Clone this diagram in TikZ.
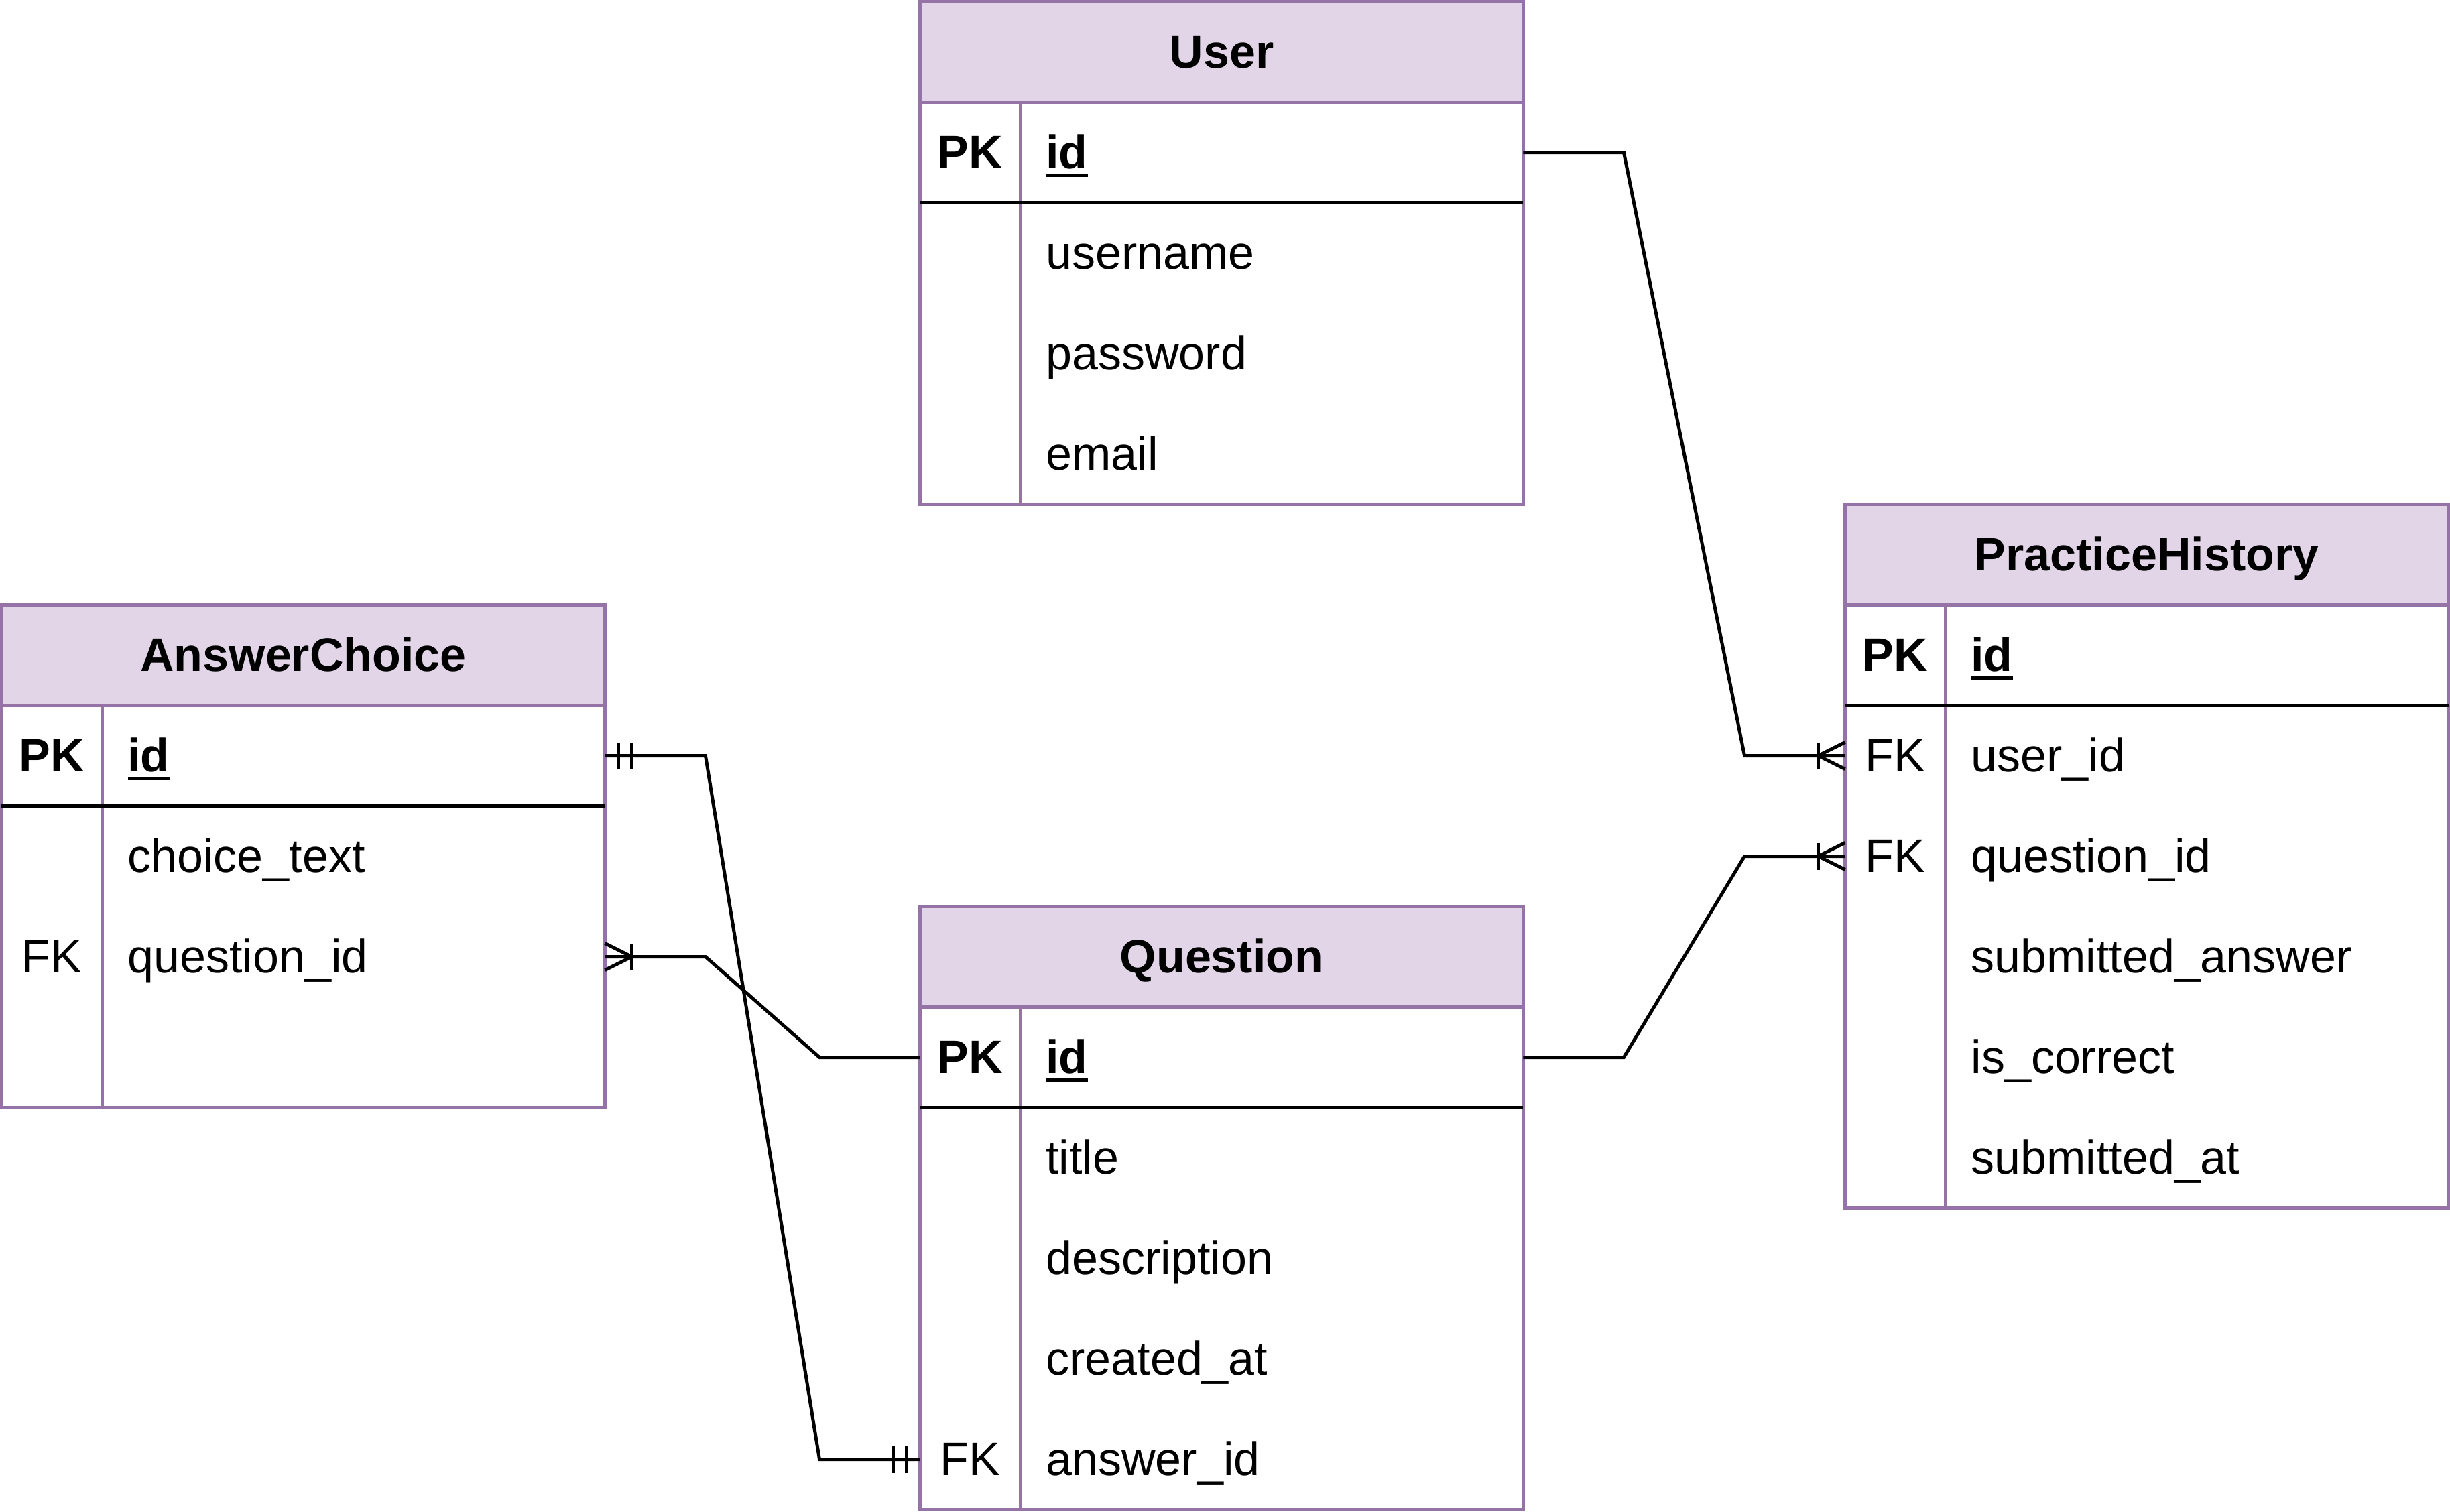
\documentclass[tikz,border=0pt]{standalone}
\usepackage{fontspec}
\setmainfont{Liberation Sans}
\usetikzlibrary{calc}

\definecolor{pborder}{HTML}{9673A6}
\definecolor{phead}{HTML}{E1D5E7}

% one unit = 0.05cm, y grows downwards
\newcommand\crowfoot[2]{%
  \draw[conn] ($(#1)+(#2,-4)$) -- ($(#1)+(#2,4)$);
  \draw[conn] ($(#1)+(0,-4)$) -- ($(#1)+(#2,0)$) -- ($(#1)+(0,4)$);}
\newcommand\twobars[2]{%
  \draw[conn] ($(#1)+(#2,-4)$) -- ($(#1)+(#2,4)$);
  \draw[conn] ($(#1)+(2*#2,-4)$) -- ($(#1)+(2*#2,4)$);}
% primary key field name: bold with a heavy underline
\newcommand\pkfield[1]{\setbox0\hbox{\bfseries #1}\rlap{\rule[-3.6pt]{\wd0}{1.42pt}}\box0}

\begin{document}
\begin{tikzpicture}[x=0.05cm, y=-0.05cm,
  txt/.style={font=\fontsize{19.92pt}{23.9pt}\selectfont, text height=18pt, text depth=4.2pt},
  hdr/.style={txt, draw=pborder, fill=phead, line width=1.42pt, minimum width=9cm,
    minimum height=1.5cm, inner sep=0pt, outer sep=0pt, anchor=north west,
    font=\fontsize{19.92pt}{23.9pt}\selectfont\bfseries},
  keycell/.style={txt, minimum width=1.5cm, minimum height=1.5cm, inner sep=0pt,
    outer sep=0pt, anchor=north west},
  fieldcell/.style={txt, minimum height=1.5cm, text width=6.74cm, inner xsep=0.38cm,
    inner ysep=0pt, outer sep=0pt, align=left, anchor=north west},
  tline/.style={draw=pborder, line width=1.42pt},
  pkline/.style={draw=black, line width=1.42pt},
  conn/.style={draw=black, line width=1.42pt}]

\fill[white] (0,0) rectangle (731,451);
\useasboundingbox (0,0) rectangle (731,451);

% ---------- User ----------
\node[hdr] (u) at (274.5,0.5) {User};
\node[keycell] (u-k1) at (274.5,30.5) {\bfseries PK};
\node[fieldcell] (u-f1) at (304.5,30.5) {\pkfield{id}};
\node[keycell] (u-k2) at (274.5,60.5) {};
\node[fieldcell] (u-f2) at (304.5,60.5) {username};
\node[keycell] (u-k3) at (274.5,90.5) {};
\node[fieldcell] (u-f3) at (304.5,90.5) {password};
\node[keycell] (u-k4) at (274.5,120.5) {};
\node[fieldcell] (u-f4) at (304.5,120.5) {email};
\draw[tline] (u.north west) rectangle (u-f4.south east);
\draw[tline] (u-k1.north east) -- (u-k4.south east);
\draw[pkline] (u-k1.south west) -- (u-f1.south east);

% ---------- PracticeHistory ----------
\node[hdr] (ph) at (550.5,150.5) {PracticeHistory};
\node[keycell] (ph-k1) at (550.5,180.5) {\bfseries PK};
\node[fieldcell] (ph-f1) at (580.5,180.5) {\pkfield{id}};
\node[keycell] (ph-k2) at (550.5,210.5) {FK};
\node[fieldcell] (ph-f2) at (580.5,210.5) {user\_id};
\node[keycell] (ph-k3) at (550.5,240.5) {FK};
\node[fieldcell] (ph-f3) at (580.5,240.5) {question\_id};
\node[keycell] (ph-k4) at (550.5,270.5) {};
\node[fieldcell] (ph-f4) at (580.5,270.5) {submitted\_answer};
\node[keycell] (ph-k5) at (550.5,300.5) {};
\node[fieldcell] (ph-f5) at (580.5,300.5) {is\_correct};
\node[keycell] (ph-k6) at (550.5,330.5) {};
\node[fieldcell] (ph-f6) at (580.5,330.5) {submitted\_at};
\draw[tline] (ph.north west) rectangle (ph-f6.south east);
\draw[tline] (ph-k1.north east) -- (ph-k6.south east);
\draw[pkline] (ph-k1.south west) -- (ph-f1.south east);

% ---------- AnswerChoice ----------
\node[hdr] (ac) at (0.5,180.5) {AnswerChoice};
\node[keycell] (ac-k1) at (0.5,210.5) {\bfseries PK};
\node[fieldcell] (ac-f1) at (30.5,210.5) {\pkfield{id}};
\node[keycell] (ac-k2) at (0.5,240.5) {};
\node[fieldcell] (ac-f2) at (30.5,240.5) {choice\_text};
\node[keycell] (ac-k3) at (0.5,270.5) {FK};
\node[fieldcell] (ac-f3) at (30.5,270.5) {question\_id};
\node[keycell] (ac-k4) at (0.5,300.5) {};
\node[fieldcell] (ac-f4) at (30.5,300.5) {};
\draw[tline] (ac.north west) rectangle (ac-f4.south east);
\draw[tline] (ac-k1.north east) -- (ac-k4.south east);
\draw[pkline] (ac-k1.south west) -- (ac-f1.south east);

% ---------- Question ----------
\node[hdr] (q) at (274.5,270.5) {Question};
\node[keycell] (q-k1) at (274.5,300.5) {\bfseries PK};
\node[fieldcell] (q-f1) at (304.5,300.5) {\pkfield{id}};
\node[keycell] (q-k2) at (274.5,330.5) {};
\node[fieldcell] (q-f2) at (304.5,330.5) {title};
\node[keycell] (q-k3) at (274.5,360.5) {};
\node[fieldcell] (q-f3) at (304.5,360.5) {description};
\node[keycell] (q-k4) at (274.5,390.5) {};
\node[fieldcell] (q-f4) at (304.5,390.5) {created\_at};
\node[keycell] (q-k5) at (274.5,420.5) {FK};
\node[fieldcell] (q-f5) at (304.5,420.5) {answer\_id};
\draw[tline] (q.north west) rectangle (q-f5.south east);
\draw[tline] (q-k1.north east) -- (q-k5.south east);
\draw[pkline] (q-k1.south west) -- (q-f1.south east);

% ---------- relationships ----------
\draw[conn] (u-f1.east) -- ++(30,0) -- ($(ph-k2.west)+(-30,0)$) -- (ph-k2.west);
\crowfoot{ph-k2.west}{-8}

\draw[conn] (q-f1.east) -- ++(30,0) -- ($(ph-k3.west)+(-30,0)$) -- (ph-k3.west);
\crowfoot{ph-k3.west}{-8}

\draw[conn] (q-k1.west) -- ++(-30,0) -- ($(ac-f3.east)+(30,0)$) -- (ac-f3.east);
\crowfoot{ac-f3.east}{8}

\draw[conn] (ac-f1.east) -- ++(30,0) -- ($(q-k5.west)+(-30,0)$) -- (q-k5.west);
\twobars{ac-f1.east}{4}
\twobars{q-k5.west}{-4}

\end{tikzpicture}
\end{document}
